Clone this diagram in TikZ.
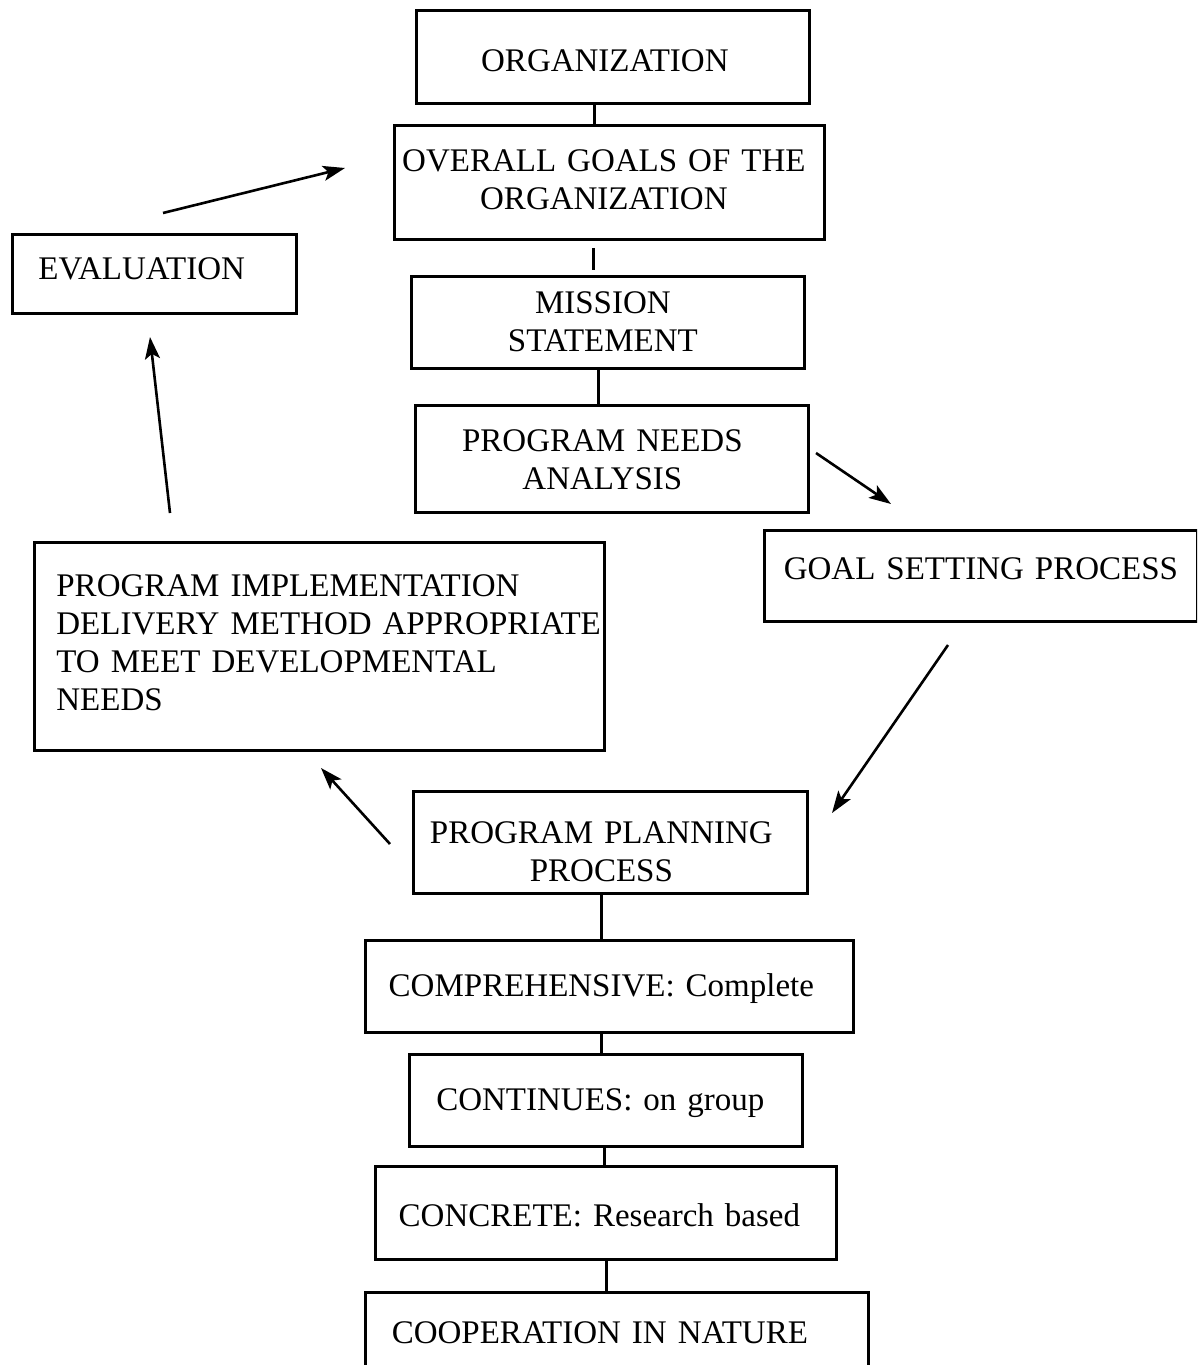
\documentclass[tikz,border=0pt]{standalone}
\usepackage{fontspec}
\setmainfont{Liberation Serif}
\usetikzlibrary{arrows.meta}
\newcommand{\txtshift}[1]{\hspace*{#1pt}}
\tikzset{
  box/.style={draw, line width=2.8pt, rectangle, inner sep=0pt, anchor=north west,
    font=\fontsize{33}{38}\selectfont, align=center},
  lbox/.style={box, align=left},
  link/.style={line width=2.6pt},
  flow/.style={line width=2.6pt, -{Stealth[length=22pt,width=15pt,inset=5pt]}}
}
\begin{document}
\begin{tikzpicture}[x=1pt,y=-1pt]
\useasboundingbox (0,0) rectangle (1197,1365);
\clip (0,0) rectangle (1197,1365);

\node[box, text width=393pt, text height=61pt, text depth=32pt] (org) at (415,9) {\txtshift{-16}ORGANIZATION};
\node[box, text width=430pt, text height=46pt, text depth=68pt] (goals) at (393,124) {\txtshift{-11}OVERALL GOALS OF THE\\\txtshift{-11}ORGANIZATION};
\node[box, text width=393pt, text height=37pt, text depth=55pt] (mission) at (410,275) {\txtshift{-10}MISSION\\\txtshift{-10}STATEMENT};
\node[box, text width=393pt, text height=46pt, text depth=61pt] (needs) at (414,404) {\txtshift{-19}PROGRAM NEEDS\\\txtshift{-19}ANALYSIS};
\node[box, text width=433pt, text height=49pt, text depth=42pt] (goalset) at (763,529) {GOAL SETTING PROCESS};
\node[lbox, text width=284pt, text height=45pt, text depth=34pt] (eval) at (11,233) {\txtshift{26}EVALUATION};
\node[lbox, text width=570pt, text height=54pt, text depth=154pt] (impl) at (33,541)
  {\txtshift{22}\mbox{PROGRAM IMPLEMENTATION}\\\txtshift{22}\mbox{DELIVERY METHOD APPROPRIATE}\\\txtshift{22}\mbox{TO MEET DEVELOPMENTAL}\\\txtshift{22}\mbox{NEEDS}};
\node[box, text width=394pt, text height=52pt, text depth=50pt] (ppp) at (412,790) {\txtshift{-18}PROGRAM PLANNING\\\txtshift{-18}PROCESS};
\node[box, text width=488pt, text height=56pt, text depth=36pt] (comp) at (364,939) {\txtshift{-16}COMPREHENSIVE: Complete};
\node[box, text width=393pt, text height=56pt, text depth=36pt] (cont) at (408,1053) {\txtshift{-11}CONTINUES: on group};
\node[box, text width=461pt, text height=60pt, text depth=33pt] (concr) at (374,1165) {\txtshift{-13}CONCRETE: Research based};
\node[box, text width=503pt, text height=51pt, text depth=58pt] (coop) at (364,1291) {\txtshift{-34}COOPERATION IN NATURE};

% vertical links
\draw[link] ([xshift=-18.5pt]org.south) -- ([xshift=-18.5pt]org.south |- goals.north);
\draw[link, shorten <=7pt, shorten >=5pt] ([xshift=-16pt]goals.south) -- ([xshift=-16pt]goals.south |- mission.north);
\draw[link] ([xshift=-9.5pt]mission.south) -- ([xshift=-9.5pt]mission.south |- needs.north);
\draw[link] ([xshift=-9pt]ppp.south) -- ([xshift=-9pt]ppp.south |- comp.north);
\draw[link] ([xshift=-8pt]comp.south) -- ([xshift=-8pt]comp.south |- cont.north);
\draw[link] ([xshift=-1.5pt]cont.south) -- ([xshift=-1.5pt]cont.south |- concr.north);
\draw[link] ([xshift=0.5pt]concr.south) -- ([xshift=0.5pt]concr.south |- coop.north);

% free arrows
\coordinate (a1s) at (163,213); \coordinate (a1e) at (345,168);
\coordinate (a2s) at (170,513); \coordinate (a2e) at (150,337);
\coordinate (a3s) at (816,453); \coordinate (a3e) at (891,504);
\coordinate (a4s) at (948,645); \coordinate (a4e) at (832,813);
\coordinate (a5s) at (390,844); \coordinate (a5e) at (321,768);
\draw[flow] (a1s) -- (a1e);
\draw[flow] (a2s) -- (a2e);
\draw[flow] (a3s) -- (a3e);
\draw[flow] (a4s) -- (a4e);
\draw[flow] (a5s) -- (a5e);
\end{tikzpicture}
\end{document}
